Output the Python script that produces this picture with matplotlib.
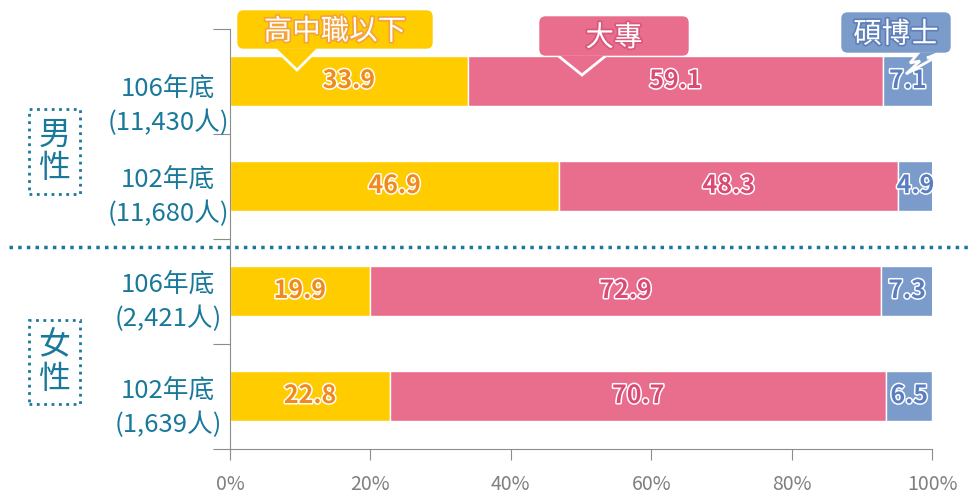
import matplotlib
matplotlib.use("Agg")
import matplotlib.pyplot as plt
import matplotlib.patheffects as pe
from matplotlib.patches import FancyBboxPatch, Polygon

plt.rcParams['font.family'] = ['Noto Sans CJK TC', 'DejaVu Sans']

# data
years = ["106年底", "102年底", "106年底", "102年底"]
counts = ["11,430", "11,680", "2,421", "1,639"]
genders = ["男\n性", "女\n性"]
series = ["高中職以下", "大專", "碩博士"]
high = [33.9, 46.9, 19.9, 22.8]
college = [59.1, 48.3, 72.9, 70.7]
grad = [7.1, 4.9, 7.3, 6.5]

colors = ["#FFCC00", "#E96D8D", "#7B9BCB"]
num_fill = ["#F08A1C", "#D94A74", "#5A7EC0"]
teal = "#19799A"
gray = "#8C8C8C"

fig = plt.figure(figsize=(9.71, 4.95), dpi=100)
ax = fig.add_axes([230 / 971, 46.5 / 495, 702 / 971, 420 / 495])

pos = list(range(len(years)))
left = [0] * len(years)
for vals, col, fill in zip([high, college, grad], colors, num_fill):
    ax.barh(pos, vals, left=left, height=0.47, color=col,
            edgecolor="white", linewidth=1)
    for p, v, l in zip(pos, vals, left):
        ax.text(l + v / 2, p, "%.1f" % v, ha="center", va="center",
                fontsize=18, fontweight="bold", color=fill,
                path_effects=[pe.withStroke(linewidth=2.2, foreground="white")])
    left = [l + v for l, v in zip(left, vals)]

ax.set_xlim(0, 100)
ax.set_ylim(3.5, -0.5)
ax.set_xticks([0, 20, 40, 60, 80, 100])
ax.set_xticklabels(["%d%%" % t for t in [0, 20, 40, 60, 80, 100]])
ax.tick_params(axis="x", colors=gray, labelsize=14, length=8, pad=10,
               labelcolor="#7F7F7F")
ax.set_yticks([-0.5, 0.5, 1.5, 2.5, 3.5])
ax.set_yticklabels([])
ax.tick_params(axis="y", length=12, color=gray)
for s in ["top", "right"]:
    ax.spines[s].set_visible(False)
for s in ["left", "bottom"]:
    ax.spines[s].set_color(gray)

# category labels
label_y = [0.24, 1.105, 2.105, 3.114]
for y, yr, c in zip(label_y, years, counts):
    ax.text(-8.8, y, "%s\n(%s人)" % (yr, c), ha="center", va="center",
            multialignment="center", fontsize=18.5, color=teal,
            linespacing=1.4, clip_on=False)

# gender boxes
for y, g in zip([0.671, 2.676], genders):
    ax.text(-25.0, y, g, ha="center", va="center", fontsize=23, color=teal,
            linespacing=1.05, clip_on=False,
            bbox=dict(boxstyle="square,pad=0.3", facecolor="white",
                      edgecolor=teal, linestyle=":", linewidth=2))

# dotted separator between groups
ax.axhline(1.58, xmin=-0.315, xmax=1.06, color=teal, linestyle=(0, (1, 1.5)),
           linewidth=2.5, clip_on=False)


def px(x, y):
    return ((x - 230) / 7.02, (y - 81) / 105)


# callouts: box (x0, y0, x1, y1) in pixels and pointer polygon
boxes = [(238, 11, 432, 48), (540, 17, 688, 55), (842, 13, 950, 52)]
pointers = [
    [(273, 47), (297, 70), (320, 47)],
    [(556, 54), (582, 75), (608, 54)],
    [(920, 51), (910, 63), (920, 61), (906, 74), (936, 57), (927, 58), (944, 51)],
]
stroke_col = ["#F3A23C", "#D9577A", "#5F7FB8"]
for (x0, y0, x1, y1), pts, name, col, sc in zip(boxes, pointers, series, colors, stroke_col):
    poly = Polygon([px(*p) for p in pts], closed=True, facecolor=col,
                   edgecolor="white", linewidth=2, clip_on=False, zorder=5)
    ax.add_patch(poly)
    a, b = px(x0, y1)
    c, d = px(x1, y0)
    box = FancyBboxPatch((a, d), c - a, b - d,
                         boxstyle="round,pad=0,rounding_size=0.8",
                         mutation_aspect=7.02 / 105, facecolor=col,
                         edgecolor=col, linewidth=1, clip_on=False, zorder=6)
    ax.add_patch(box)
    cx, cy = px((x0 + x1) / 2, (y0 + y1) / 2)
    ax.text(cx, cy + 0.02, name, ha="center", va="center", fontsize=20.5,
            color="white", zorder=7, clip_on=False,
            path_effects=[pe.withStroke(linewidth=2.5, foreground=sc)])

fig.savefig("out.png", dpi=100)
